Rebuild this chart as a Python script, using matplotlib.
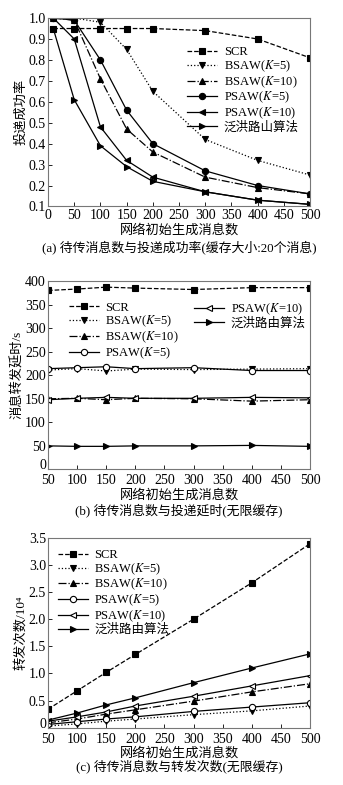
import matplotlib
matplotlib.use("Agg")
import matplotlib.pyplot as plt

plt.rcParams['font.family'] = ['Liberation Serif', 'Noto Sans CJK SC']
plt.rcParams['mathtext.fontset'] = 'stix'
plt.rcParams['font.size'] = 9

names_a = ['SCR', 'BSAW($K$=5)', 'BSAW($K$=10)', 'PSAW($K$=5)', 'PSAW($K$=10)', '泛洪路山算法']
names_bc = ['SCR', 'BSAW($K$=5)', 'BSAW($K$=10)', 'PSAW($K$=5)', 'PSAW($K$=10)', '泛洪路由算法']

# (a) success rate, buffer = 20 messages
x_a = [10, 50, 100, 150, 200, 300, 400, 500]
scr_a = [0.95, 0.95, 0.95, 0.95, 0.95, 0.94, 0.90, 0.81]
bsaw5_a = [1.0, 1.0, 0.98, 0.85, 0.65, 0.42, 0.32, 0.25]
bsaw10_a = [1.0, 0.99, 0.71, 0.47, 0.36, 0.24, 0.19, 0.16]
psaw5_a = [1.0, 0.99, 0.80, 0.56, 0.40, 0.27, 0.20, 0.16]
psaw10_a = [1.0, 0.90, 0.48, 0.32, 0.24, 0.17, 0.13, 0.11]
flood_a = [0.95, 0.61, 0.39, 0.29, 0.22, 0.17, 0.13, 0.11]

# (b) delay, unlimited buffer
x_bc = [50, 100, 150, 200, 300, 400, 500]
scr_b = [380, 383, 387, 385, 382, 386, 386]
bsaw5_b = [211, 214, 209, 213, 212, 213, 214]
bsaw10_b = [150, 151, 148, 151, 150, 145, 148]
psaw5_b = [214, 216, 218, 214, 216, 210, 210]
psaw10_b = [148, 151, 153, 151, 151, 153, 152]
flood_b = [50, 49, 49, 50, 50, 51, 49]

# (c) forwarding count (10^4), unlimited buffer
scr_c = [0.34, 0.68, 1.02, 1.35, 2.00, 2.67, 3.39]
bsaw5_c = [0.03, 0.07, 0.12, 0.16, 0.24, 0.31, 0.40]
bsaw10_c = [0.09, 0.16, 0.25, 0.33, 0.49, 0.66, 0.81]
psaw5_c = [0.06, 0.11, 0.16, 0.20, 0.30, 0.38, 0.46]
psaw10_c = [0.12, 0.20, 0.29, 0.40, 0.58, 0.77, 0.96]
flood_c = [0.14, 0.27, 0.42, 0.55, 0.83, 1.10, 1.36]

styles = [('--', 's'), (':', 'v'), ('-.', '^'), ('-', 'o'), ('-', '<'), ('-', '>')]

fig = plt.figure(figsize=(3.43, 7.85), dpi=100)
ax_a = fig.add_axes([0.140, 0.737, 0.764, 0.240])
ax_b = fig.add_axes([0.140, 0.402, 0.764, 0.240])
ax_c = fig.add_axes([0.140, 0.073, 0.764, 0.242])

leg_kw = dict(frameon=False, fontsize=9, handlelength=2.4, labelspacing=0.02,
              borderaxespad=0.2, handletextpad=0.5)


def draw(ax, x, series, names, open_psaw):
    lines = []
    for i, (y, name) in enumerate(zip(series, names)):
        ls, mk = styles[i]
        face = 'white' if (open_psaw and i in (3, 4)) else 'black'
        ln, = ax.plot(x, y, linestyle=ls, marker=mk, color='black', lw=0.9,
                      ms=4.5, mfc=face, mec='black', mew=0.8, label=name)
        lines.append(ln)
    for s in ax.spines.values():
        s.set_color('#777777')
        s.set_linewidth(0.8)
    ax.tick_params(direction='in', length=3, width=0.6, pad=1.5, labelsize=10)
    return lines


draw(ax_a, x_a, [scr_a, bsaw5_a, bsaw10_a, psaw5_a, psaw10_a, flood_a], names_a, False)
ax_a.set_xlim(0, 500)
ax_a.set_ylim(0.1, 1.0)
ax_a.set_xticks(range(0, 501, 50))
ax_a.set_yticks([0.1 * i for i in range(1, 11)])
ax_a.set_yticklabels(['%.1f' % (0.1 * i) for i in range(1, 11)])
ax_a.set_ylabel('投递成功率', labelpad=1, fontsize=9.5)
ax_a.set_xlabel('网络初始生成消息数', labelpad=2, fontsize=9.5)
ax_a.legend(loc='upper right', bbox_to_anchor=(0.985, 0.89), **leg_kw)
ax_a.text(0.5, -0.215, '(a) 待传消息数与投递成功率(缓存大小:20个消息)',
          transform=ax_a.transAxes, ha='center', va='center', fontsize=9.3)

lines_b = draw(ax_b, x_bc, [scr_b, bsaw5_b, bsaw10_b, psaw5_b, psaw10_b, flood_b], names_bc, True)
ax_b.set_xlim(50, 500)
ax_b.set_ylim(0, 400)
ax_b.set_xticks(range(50, 501, 50))
ax_b.set_yticks(range(0, 401, 50))
ax_b.tick_params(axis='x', pad=3.5)
ax_b.get_yticklabels()[0].set_verticalalignment('baseline')
ax_b.set_ylabel('消息转发延时/s', labelpad=1, fontsize=9.5)
ax_b.set_xlabel('网络初始生成消息数', labelpad=1, fontsize=9.5)
leg1 = ax_b.legend(lines_b[:4], names_bc[:4], loc='upper left',
                   bbox_to_anchor=(0.05, 0.93), **leg_kw)
ax_b.add_artist(leg1)
ax_b.legend(lines_b[4:], names_bc[4:], loc='upper left',
            bbox_to_anchor=(0.53, 0.93), **leg_kw)
ax_b.text(0.5, -0.215, '(b) 待传消息数与投递延时(无限缓存)',
          transform=ax_b.transAxes, ha='center', va='center', fontsize=9.3)

draw(ax_c, x_bc, [scr_c, bsaw5_c, bsaw10_c, psaw5_c, psaw10_c, flood_c], names_bc, True)
ax_c.set_xlim(50, 500)
ax_c.set_ylim(0, 3.5)
ax_c.set_xticks(range(50, 501, 50))
ax_c.set_yticks([0, 0.5, 1.0, 1.5, 2.0, 2.5, 3.0, 3.5])
ax_c.set_yticklabels(['0', '0.5', '1.0', '1.5', '2.0', '2.5', '3.0', '3.5'])
ax_c.get_yticklabels()[0].set_verticalalignment('baseline')
ax_c.tick_params(axis='x', pad=3.5)
ax_c.set_ylabel('转发次数/10⁴', labelpad=1, fontsize=9.5)
ax_c.set_xlabel('网络初始生成消息数', labelpad=1, fontsize=9.5)
ax_c.legend(loc='upper left', bbox_to_anchor=(0.01, 0.98), **leg_kw)
ax_c.text(0.5, -0.205, '(c) 待传消息数与转发次数(无限缓存)',
          transform=ax_c.transAxes, ha='center', va='center', fontsize=9.3)

fig.savefig('out.png', dpi=100)
